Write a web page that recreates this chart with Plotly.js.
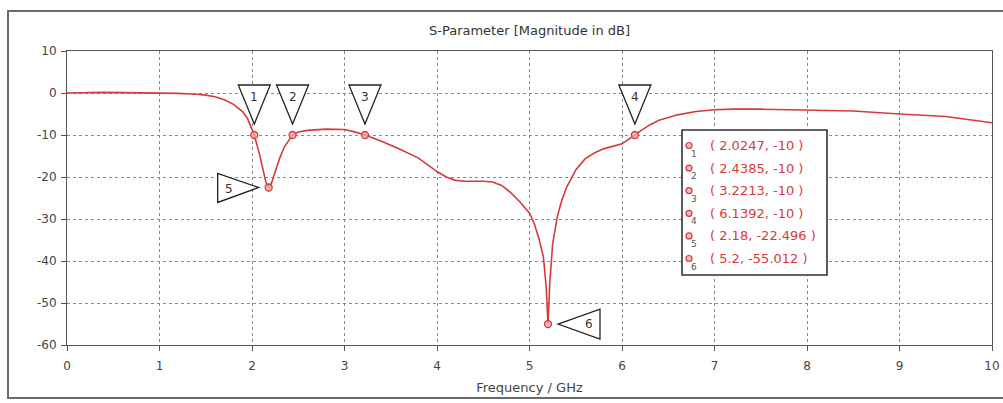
<!DOCTYPE html>
<html><head><meta charset="utf-8">
<script src="https://cdn.plot.ly/plotly-3.0.1.min.js"></script>
<style>html,body{margin:0;padding:0;background:#fff}#chart{width:1003px;height:403px}</style>
</head><body><div id="chart"></div>
<script>
const freqGHz = [0, 0.2, 0.4, 0.6, 0.8, 1.0, 1.2, 1.4, 1.5, 1.6, 1.7, 1.8, 1.9, 1.95, 2.0247, 2.08, 2.12, 2.15, 2.18, 2.21, 2.25, 2.3, 2.35, 2.4385, 2.5, 2.6, 2.8, 3.0, 3.1, 3.2213, 3.4, 3.6, 3.8, 4.0, 4.1, 4.2, 4.3, 4.4, 4.5, 4.6, 4.7, 4.8, 4.9, 5.0, 5.05, 5.1, 5.15, 5.18, 5.2, 5.22, 5.25, 5.3, 5.35, 5.4, 5.5, 5.6, 5.7, 5.8, 5.9, 6.0, 6.1392, 6.2, 6.3, 6.4, 6.6, 6.8, 7.0, 7.2, 7.5, 8.0, 8.5, 9.0, 9.5, 10.0];
const s11dB = [0, 0.1, 0.15, 0.1, 0.05, 0, -0.1, -0.3, -0.5, -0.9, -1.6, -2.7, -4.5, -6.0, -10, -14.5, -18.5, -21.2, -22.496, -21.5, -18.8, -15.5, -12.8, -10, -9.3, -8.9, -8.6, -8.7, -9.2, -10, -11.5, -13.4, -15.5, -18.7, -20.0, -20.8, -21.0, -21.0, -21.0, -21.2, -22.0, -23.8, -26.0, -28.6, -31, -34.5, -39, -46, -55.012, -45, -36, -29.5, -25.5, -22.5, -18.3, -15.7, -14.3, -13.3, -12.7, -12.1, -10, -9.0, -7.6, -6.5, -5.2, -4.4, -4.0, -3.85, -3.85, -4.0, -4.3, -5.0, -5.6, -7.1];
const markerFreq = [2.0247, 2.4385, 3.2213, 6.1392, 2.18, 5.2];
const markerDB = [-10, -10, -10, -10, -22.496, -55.012];
const markerLabels = ['1', '2', '3', '4', '5', '6'];
const markerDir = ['down', 'down', 'down', 'down', 'right', 'left'];
const xTickVals = [0, 1, 2, 3, 4, 5, 6, 7, 8, 9, 10];
const yTickVals = [10, 0, -10, -20, -30, -40, -50, -60];

const W = 1003, H = 403, L = 67, R = 11, T = 51, B = 58;
const PW = W - L - R, PH = H - T - B;
const pxX = p => (p - L) / PW;
const pxY = p => (H - B - p) / PH;

const red = '#d63a3a';
const txtGray = '#444';

const trace = {
  x: freqGHz, y: s11dB, type: 'scatter', mode: 'lines',
  line: {color: red, width: 1.6}, hoverinfo: 'skip', showlegend: false
};
const marks = {
  x: markerFreq, y: markerDB, type: 'scatter', mode: 'markers',
  marker: {symbol: 'circle', size: 7, color: 'rgba(240,170,170,0.8)', line: {color: red, width: 1.3}},
  hoverinfo: 'skip', showlegend: false
};

const triPaths = {
  down: 'M -16 50 L 16 50 L 0 11 Z',
  right: 'M -51 14 L -51 -15 L -10 0 Z',
  left: 'M 10 0 L 52 15 L 52 -15 Z'
};
const labelOff = {down: [0, 38], right: [-40, -2], left: [41, 0]};

const shapes = [];
const annotations = [];

// outer frame
shapes.push({type: 'rect', xref: 'paper', yref: 'paper', x0: pxX(8), x1: pxX(1010), y0: pxY(398), y1: pxY(11),
  line: {color: '#6a6a6a', width: 2}, fillcolor: 'rgba(0,0,0,0)', layer: 'below'});

markerFreq.forEach((f, i) => {
  const d = markerDir[i];
  shapes.push({type: 'path', xref: 'x', yref: 'y', xsizemode: 'pixel', ysizemode: 'pixel',
    xanchor: f, yanchor: markerDB[i], path: triPaths[d],
    line: {color: '#222', width: 1.3}, fillcolor: '#fff'});
  annotations.push({x: f, y: markerDB[i], xref: 'x', yref: 'y', text: markerLabels[i], showarrow: false,
    xshift: labelOff[d][0], yshift: labelOff[d][1], font: {family: 'DejaVu Sans', size: 12, color: '#333'}});
});

// marker info box
const boxL = 682, boxR = 827, boxT = 130, boxB = 275;
shapes.push({type: 'rect', xref: 'paper', yref: 'paper', x0: pxX(boxL), x1: pxX(boxR), y0: pxY(boxB), y1: pxY(boxT),
  line: {color: '#333', width: 1.6}, fillcolor: '#fff'});
const row0 = 145.5, rowDy = 22.6;
markerFreq.forEach((f, i) => {
  const yy = row0 + i * rowDy;
  shapes.push({type: 'circle', xref: 'paper', yref: 'paper', xsizemode: 'pixel', ysizemode: 'pixel',
    xanchor: pxX(689), yanchor: pxY(yy), x0: -3, x1: 3, y0: -3, y1: 3,
    line: {color: red, width: 1.2}, fillcolor: 'rgba(240,170,170,0.8)'});
  annotations.push({xref: 'paper', yref: 'paper', x: pxX(694), y: pxY(yy + 8), xanchor: 'center', yanchor: 'middle',
    text: markerLabels[i], showarrow: false, font: {family: 'DejaVu Sans', size: 9, color: '#555'}});
  annotations.push({xref: 'paper', yref: 'paper', x: pxX(708), y: pxY(yy), xanchor: 'left', yanchor: 'middle',
    text: '( ' + f + ', ' + markerDB[i] + ' )', showarrow: false,
    font: {family: 'DejaVu Sans', size: 13, color: red}});
});

const axisCommon = {
  showline: true, mirror: true, linecolor: '#555', linewidth: 1,
  ticks: 'outside', ticklen: 5, tickcolor: '#555', tickwidth: 1,
  showgrid: true, gridcolor: '#8a8a8a', griddash: 'dot', gridwidth: 1,
  zeroline: false, tickfont: {family: 'DejaVu Sans', size: 12, color: txtGray},
  fixedrange: true
};

const layout = {
  width: W, height: H,
  margin: {l: L, r: R, t: T, b: B, pad: 0},
  paper_bgcolor: '#fff', plot_bgcolor: '#fff',
  title: {text: 'S-Parameter [Magnitude in dB]', xref: 'paper', x: 0.5, yref: 'container', y: 1 - 30 / H, yanchor: 'middle',
    font: {family: 'DejaVu Sans', size: 13, color: '#333'}},
  xaxis: Object.assign({}, axisCommon, {range: [0, 10], tickvals: xTickVals, ticktext: xTickVals.map(String),
    ticklabelstandoff: 5,
    title: {text: 'Frequency / GHz', standoff: 10, font: {family: 'DejaVu Sans', size: 13, color: txtGray}}}),
  yaxis: Object.assign({}, axisCommon, {range: [-60, 10], tickvals: yTickVals, ticktext: yTickVals.map(String),
    ticklabelstandoff: 2}),
  shapes: shapes, annotations: annotations, showlegend: false
};

Plotly.newPlot('chart', [trace, marks], layout, {displayModeBar: false, staticPlot: true});
</script></body></html>
